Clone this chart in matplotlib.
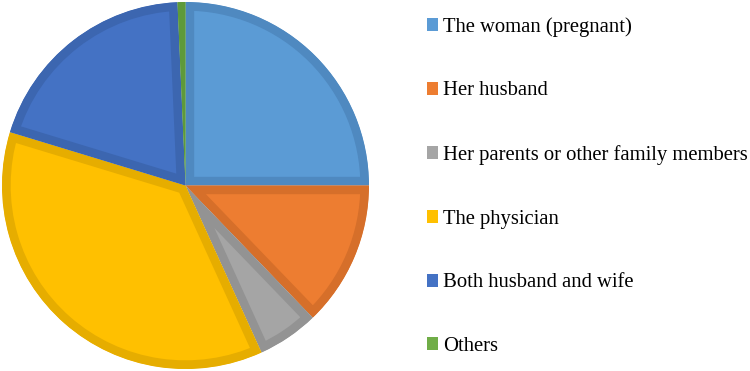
import matplotlib.pyplot as plt
from matplotlib.patches import Patch

labels = ["The woman (pregnant)", "Her husband", "Her parents or other family members",
          "The physician", "Both husband and wife", "Others"]
values = [25.0, 12.8, 5.4, 36.5, 19.6, 0.7]
colors = ["#5B9BD5", "#ED7D31", "#A5A5A5", "#FFC000", "#4472C4", "#70AD47"]
edges = ["#4F89C0", "#D66F2A", "#939393", "#E6AD00", "#3C66B0", "#5E9A3A"]

plt.rcParams['font.family'] = ['Liberation Serif', 'DejaVu Serif']

fig = plt.figure(figsize=(7.5, 3.71), dpi=100)
ax = fig.add_axes([2 / 750, 2 / 371, 367 / 750, 367 / 371])

wedges, _ = ax.pie(values, colors=colors, startangle=90, counterclock=False,
                   radius=1.0)
for w, ec in zip(wedges, edges):
    w.set_edgecolor(ec)
    w.set_linewidth(12.5)
    w.set_clip_path(w)  # keep only the inner half of the stroke
    w.set_clip_on(True)
ax.set_xlim(-1, 1)
ax.set_ylim(-1, 1)
ax.set_aspect('equal')

handles = [Patch(facecolor=c, edgecolor='none') for c in colors]
fig.legend(handles, labels, loc='upper left', bbox_to_anchor=(427 / 750, 1 - 17 / 371),
           frameon=False, fontsize=14.9, labelspacing=2.16, handlelength=0.54,
           handleheight=0.58, handletextpad=0.22, borderpad=0, borderaxespad=0)

fig.savefig("out.png", dpi=100)
